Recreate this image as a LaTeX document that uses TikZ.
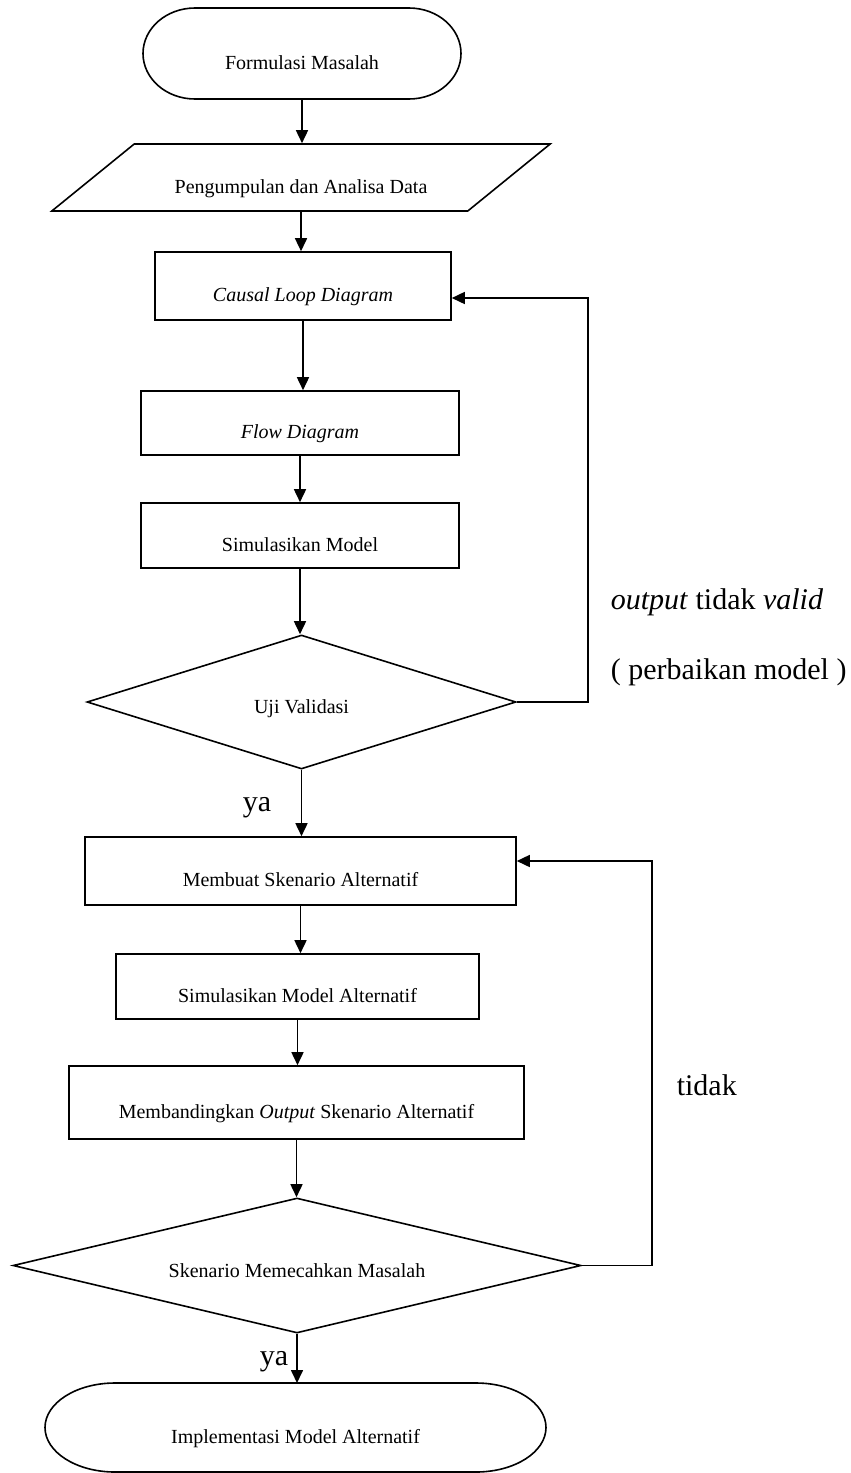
\documentclass[tikz,border=0pt]{standalone}
\usepackage{fontspec}
\setmainfont{Liberation Serif}
\usetikzlibrary{arrows.meta, shapes.geometric}

\begin{document}
\begin{tikzpicture}[x=1pt, y=1pt, line width=1.6pt,
  box/.style={draw, rectangle, inner sep=0pt, font=\fontsize{20}{24}\selectfont,
              text height=36pt, text depth=5pt},
  decision/.style={box, diamond, text height=28pt},
  io/.style={box, trapezium, trapezium left angle=33.3, trapezium right angle=146.7,
             trapezium stretches=true},
  term/.style={box, draw=none, outer sep=0pt},
  flow/.style={-{Triangle[length=13pt, width=12pt]}},
  note/.style={font=\fontsize{30}{36}\selectfont, inner sep=0pt}]
  \useasboundingbox (0,0) rectangle (851,-1473);

  % Building the model
  \node[term, minimum width=318pt, minimum height=91pt] (start) at (302,-53.5) {Formulasi Masalah};
  \draw ([xshift=52pt]start.north west) -- ([xshift=-52pt]start.north east)
    arc[start angle=90, end angle=-90, x radius=52pt, y radius=45.5pt]
    -- ([xshift=52pt]start.south west)
    arc[start angle=270, end angle=90, x radius=52pt, y radius=45.5pt] -- cycle;
  \node[io, minimum width=500pt, minimum height=67pt] (data) at (301,-177.5) {Pengumpulan dan Analisa Data};
  \node[box, minimum width=296pt, minimum height=68pt] (cld) at (303,-286) {\textit{Causal Loop Diagram}};
  \node[box, minimum width=318pt, minimum height=64pt] (fd) at (300,-423) {\textit{Flow Diagram}};
  \node[box, minimum width=318pt, minimum height=65pt] (sim) at (300,-535.5) {Simulasikan Model};
  \node[decision, aspect=3.2, minimum width=429pt, minimum height=134pt] (valid) at (301.5,-702) {Uji Validasi};

  % Scenarios
  \node[box, minimum width=431pt, minimum height=68pt] (scen) at (300.5,-871) {Membuat Skenario Alternatif};
  \node[box, minimum width=363pt, minimum height=65pt] (simalt) at (297.5,-986.5) {Simulasikan Model Alternatif};
  \node[box, minimum width=455pt, minimum height=73pt] (compare) at (296.5,-1102.5) {Membandingkan \textit{Output} Skenario Alternatif};
  \node[decision, aspect=4.2, minimum width=568pt, minimum height=135pt] (solve) at (297,-1265.5) {Skenario Memecahkan Masalah};
  \node[term, minimum width=501pt, minimum height=89pt] (impl) at (295.5,-1427.5) {Implementasi Model Alternatif};
  \draw ([xshift=70pt]impl.north west) -- ([xshift=-70pt]impl.north east)
    arc[start angle=90, end angle=-90, x radius=70pt, y radius=44.5pt]
    -- ([xshift=70pt]impl.south west)
    arc[start angle=270, end angle=90, x radius=70pt, y radius=44.5pt] -- cycle;

  % Main flow
  \draw[flow] (start.south) -- (start.south |- data.north);
  \draw[flow] (data.south) -- (data.south |- cld.north);
  \draw[flow] (cld.south) -- (cld.south |- fd.north);
  \draw[flow] (fd.south) -- (fd.south |- sim.north);
  \draw[flow] (sim.south) -- (sim.south |- valid.north);
  \draw[flow] (valid.south) -- (valid.south |- scen.north);
  \draw[flow] (scen.south) -- (scen.south |- simalt.north);
  \draw[flow] (simalt.south) -- (simalt.south |- compare.north);
  \draw[flow] (compare.south) -- (compare.south |- solve.north);
  \draw[flow] (solve.south) -- (solve.south |- impl.north);

  % Loops back
  \draw[flow] (valid.east) -- ++(71,0) |- ([yshift=-12pt]cld.east);
  \draw[flow] (solve.east) -- ++(70,0) |- ([yshift=10pt]scen.east);

  % Labels
  \node[note, anchor=west] (invalid) at (610,-602) {\textit{output} tidak \textit{valid}};
  \node[note, anchor=west] (repair) at (610,-672) {( perbaikan model )};
  \node[note] (yes1) at (257,-808) {ya};
  \node[note, anchor=west] (no2) at (676,-1085) {tidak};
  \node[note, anchor=east] (yes2) at (289,-1362) {ya};
\end{tikzpicture}
\end{document}
